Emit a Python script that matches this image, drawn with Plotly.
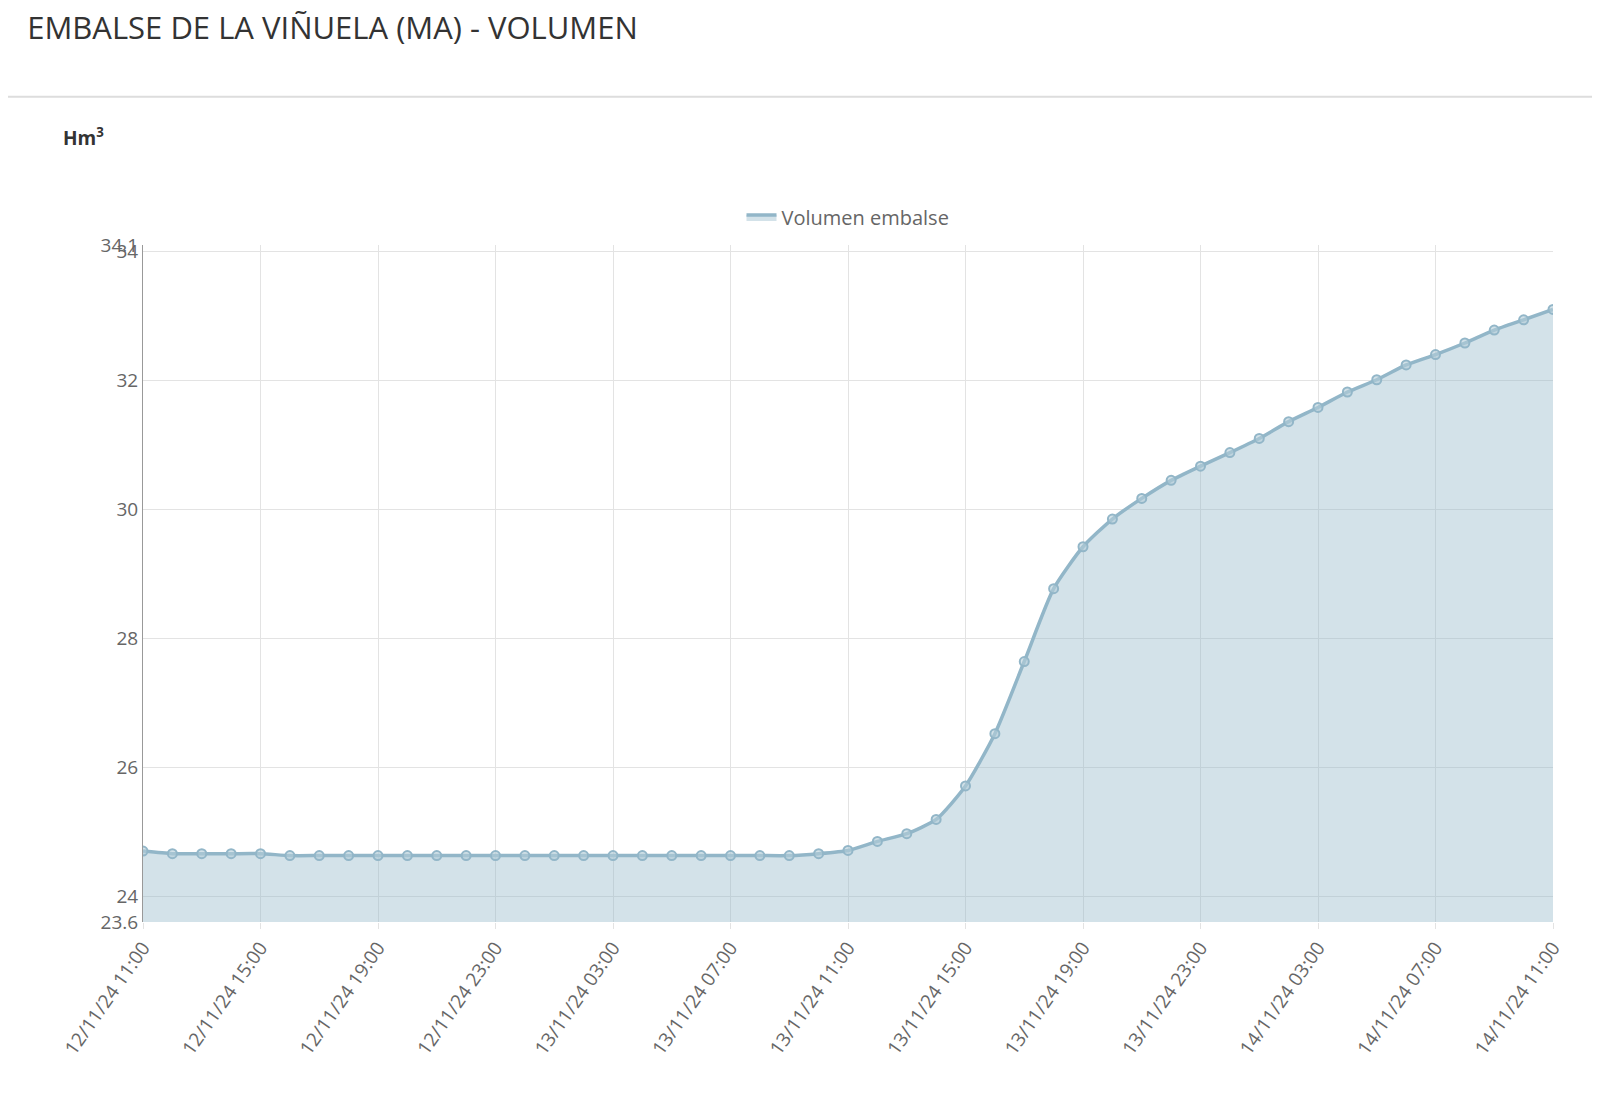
import plotly.graph_objects as go

labels = [f"{d}/11/24 {h:02d}:00" for d, h in
          [(12 + (11 + i) // 24, (11 + i) % 24) for i in range(49)]]
values = [24.70, 24.66, 24.66, 24.66, 24.66, 24.63, 24.63, 24.63, 24.63, 24.63,
          24.63, 24.63, 24.63, 24.63, 24.63, 24.63, 24.63, 24.63, 24.63, 24.63,
          24.63, 24.63, 24.63, 24.66, 24.71, 24.85, 24.97, 25.19, 25.71, 26.52,
          27.64, 28.77, 29.42, 29.85, 30.17, 30.45, 30.67, 30.88, 31.10, 31.36,
          31.58, 31.82, 32.01, 32.24, 32.40, 32.58, 32.78, 32.94, 33.10]
ytick_vals = [23.6, 24, 26, 28, 30, 32, 34, 34.1]
tick_labels = labels[::4]

fig = go.Figure()
fig.add_trace(go.Scatter(
    x=labels, y=values, mode="lines+markers", name="Volumen embalse", showlegend=False,
    line=dict(color="#92b6c8", width=3.5, shape="spline", smoothing=0.6),
    marker=dict(size=9, color="rgba(180,205,217,0.6)", line=dict(color="#92b6c8", width=2)),
    fill="tozeroy", fillcolor="rgba(146,182,200,0.4)"))
fig.add_trace(go.Scatter(
    x=[None], y=[None], mode="lines", name="Volumen embalse", fill="toself",
    line=dict(color="#92b6c8", width=3.5), fillcolor="rgba(146,182,200,0.4)"))

fig.update_layout(
    width=1600, height=1097, paper_bgcolor="white", plot_bgcolor="white",
    margin=dict(l=135, r=55, t=237, b=183),
    font=dict(family="Open Sans, Arial", size=19, color="#666"),
    title=dict(text="EMBALSE DE LA VIÑUELA (MA) - VOLUMEN", x=0.012, xanchor="left",
               y=0.982, yanchor="middle", yref="container",
               font=dict(size=31, color="#333", family="Open Sans, Arial")),
    showlegend=True,
    legend=dict(orientation="h", x=0.5, xanchor="center", y=1.07, yanchor="top",
                font=dict(size=20, color="#666")),
    xaxis=dict(tickmode="array", tickvals=tick_labels, ticktext=tick_labels,
               tickangle=-55, showgrid=True, gridcolor="#e3e3e3",
               showline=False, ticks="outside", ticklen=6, tickcolor="#e3e3e3",
               range=[0, 48]),
    yaxis=dict(range=[23.6, 34.1], tickvals=ytick_vals, showgrid=True,
               gridcolor="#e3e3e3", showline=True, linecolor="#999",
               zeroline=False, ticks="", ticksuffix="  "),
)
fig.add_annotation(text="<b>Hm<sup>3</sup></b>", xref="paper", yref="paper",
                   x=-0.058, y=1.16, xanchor="left", yanchor="middle", showarrow=False,
                   font=dict(size=19, color="#333"))
fig.add_shape(type="line", xref="paper", yref="paper", x0=-0.1, x1=1.1, y0=1.219, y1=1.219,
              line=dict(color="#ddd", width=2))
fig.write_html("out.html")
